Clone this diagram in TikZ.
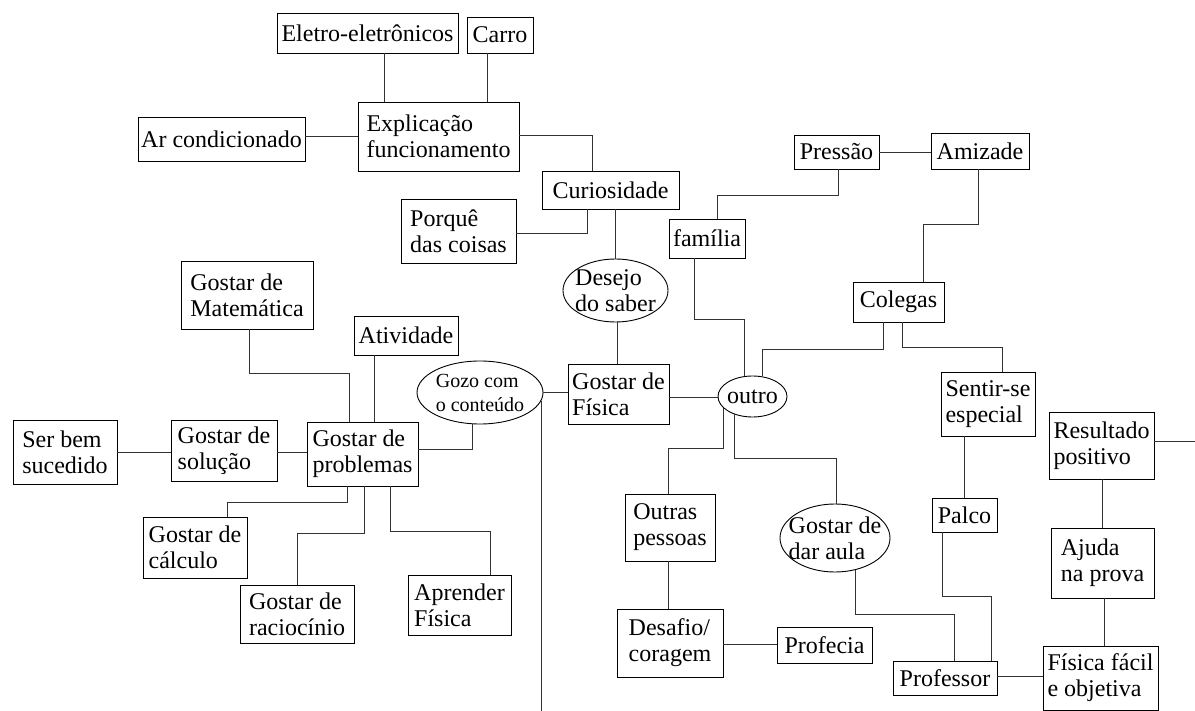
\documentclass[tikz,border=0pt]{standalone}
\usepackage{fontspec}
\setmainfont{Liberation Serif}
\usetikzlibrary{shapes.geometric}
\begin{document}
\begin{tikzpicture}[x=1pt,y=-1pt,
        every node/.style={font=\fontsize{24}{26}\selectfont},
        caixa/.style={draw,align=left,inner sep=2pt,line width=0.9pt},
        oval/.style={draw,ellipse,inner sep=0pt,line width=0.9pt},
        liga/.style={line width=0.9pt,black!80}]
        \useasboundingbox (0,0) rectangle (1195,711);
        \node[caixa,minimum width=181pt,minimum height=40pt] (eletro) at (367.5,33) {Eletro-eletrônicos};
        \node[caixa,minimum width=66pt,minimum height=36pt] (carro) at (500,35) {Carro};
        \node[caixa,minimum width=161pt,minimum height=69pt] (explic) at (438.5,136.5) {Explicação\\funcionamento};
        \node[caixa,minimum width=167pt,minimum height=44pt] (ar) at (221.5,139) {Ar condicionado};
        \node[caixa,minimum width=137pt,minimum height=38pt] (curio) at (610.5,190) {Curiosidade};
        \node[caixa,minimum width=115pt,minimum height=64pt] (porque) at (458.5,231) {Porquê\\das coisas};
        \node[caixa,minimum width=85pt,minimum height=34pt] (pressao) at (836.5,152) {Pressão};
        \node[caixa,minimum width=98pt,minimum height=36pt] (amizade) at (980,151) {Amizade};
        \node[caixa,minimum width=76pt,minimum height=39pt] (familia) at (707,238.5) {família};
        \node[oval,minimum width=105pt,minimum height=63pt,label={[align=left]center:Desejo\\do saber}] (desejo) at (615.5,290.5) {};
        \node[caixa,minimum width=101pt,minimum height=60pt] (fisica) at (618.5,394) {Gostar de\\Física};
        \node[oval,minimum width=69pt,minimum height=41pt,label=center:outro] (outro) at (752.5,396.5) {};
        \node[caixa,minimum width=91pt,minimum height=40pt] (colegas) at (898.5,302) {Colegas};
        \node[caixa,minimum width=94pt,minimum height=64pt] (sentir) at (988,404) {Sentir-se\\especial};
        \node[caixa,minimum width=105pt,minimum height=67pt] (result) at (1101.5,445.5) {Resultado\\positivo};
        \node[caixa,minimum width=132pt,minimum height=68pt] (mat) at (247,295) {Gostar de\\Matemática};
        \node[caixa,minimum width=104pt,minimum height=39pt] (ativ) at (406,335.5) {Atividade};
        \node[oval,minimum width=126pt,minimum height=63pt,label={[align=left,font=\fontsize{20}{24}\selectfont]center:Gozo com\\o conteúdo}] (gozo) at (480,392.5) {};
        \node[caixa,minimum width=111pt,minimum height=64pt] (prob) at (362.5,454) {Gostar de\\problemas};
        \node[caixa,minimum width=106pt,minimum height=61pt] (solucao) at (224,450.5) {Gostar de\\solução};
        \node[caixa,minimum width=104pt,minimum height=64pt] (serbem) at (65,452) {Ser bem\\sucedido};
        \node[caixa,minimum width=104pt,minimum height=61pt] (calculo) at (195,547.5) {Gostar de\\cálculo};
        \node[caixa,minimum width=114pt,minimum height=58pt] (racioc) at (297,614) {Gostar de\\raciocínio};
        \node[caixa,minimum width=103pt,minimum height=60pt] (aprender) at (459.5,605) {Aprender\\Física};
        \node[caixa,minimum width=90pt,minimum height=67pt] (outras) at (670,527.5) {Outras\\pessoas};
        \node[oval,minimum width=110pt,minimum height=68pt,label={[align=left]center:Gostar de\\dar aula}] (daraula) at (835,538) {};
        \node[caixa,minimum width=65pt,minimum height=34pt] (palco) at (964.5,515) {Palco};
        \node[caixa,minimum width=103pt,minimum height=70pt] (ajuda) at (1102.5,563) {Ajuda\\na prova};
        \node[caixa,minimum width=106pt,minimum height=68pt] (desafio) at (670,643) {Desafio/\\coragem};
        \node[caixa,minimum width=95pt,minimum height=36pt] (profecia) at (824.5,645) {Profecia};
        \node[caixa,minimum width=104pt,minimum height=34pt] (professor) at (945,678) {Professor};
        \node[caixa,minimum width=115pt,minimum height=64pt] (facil) at (1100.5,678) {Física fácil\\e objetiva};
        \coordinate (fim) at (542,711);
        \coordinate (borda) at (1195,441);
        \draw[liga] (eletro.south -| 384,0)--(explic.north -| 384,0);
        \draw[liga] (carro.south -| 487,0)--(explic.north -| 487,0);
        \draw[liga] (ar.east |- 0,136)--(explic.west |- 0,136);
        \draw[liga] (explic.east |- 0,135) -| (curio.north -| 592,0);
        \draw[liga] (curio.south -| 587,0) |- (porque.east |- 0,233);
        \draw[liga] (curio.south -| 615,0)--(desejo.north -| 615,0);
        \draw[liga] (desejo.south -| 617,0)--(fisica.north -| 617,0);
        \draw[liga] (gozo.east)--(fisica.west |- gozo.east);
        \draw[liga] (gozo.-8)--(gozo.-8 |- fim);
        \draw[liga] (mat.south -| 249,0)--++(0,44) -| (prob.north -| 349,0);
        \draw[liga] (ativ.south -| 374,0)--(prob.north -| 374,0);
        \draw[liga] (serbem.east |- 0,452)--(solucao.west |- 0,452);
        \draw[liga] (solucao.east |- 0,452)--(prob.west |- 0,452);
        \draw[liga] (prob.east |- 0,449) -| (gozo.south -| 472,0);
        \draw[liga] (prob.south -| 347,0)--++(0,16) -| (calculo.north -| 227,0);
        \draw[liga] (prob.south -| 364,0)--++(0,47) -| (racioc.north -| 297,0);
        \draw[liga] (prob.south -| 390,0)--++(0,45) -| (aprender.north -| 490,0);
        \draw[liga] (pressao.east)--(amizade.west |- pressao.east);
        \draw[liga] (pressao.south -| 838,0)--++(0,26) -| (familia.north -| 717,0);
        \draw[liga] (familia.south -| 694,0)--++(0,61) -| (outro.north -| 744,0);
        \draw[liga] (fisica.east |- 0,397)--(outro.west |- 0,397);
        \draw[liga] (amizade.south -| 978,0)--++(0,55) -| (colegas.north -| 923,0);
        \draw[liga] (colegas.south -| 883,0)--++(0,27) -| (outro.north -| 762,0);
        \draw[liga] (colegas.south -| 902,0)--++(0,25) -| (sentir.north -| 1002,0);
        \draw[liga] (outras.north -| 668,0)--++(0,-45) -| (outro.-158);
        \draw[liga] (daraula.north -| 836,0)--++(0,-45) -| (outro.-135);
        \draw[liga] (outras.south -| 668,0)--(desafio.north -| 668,0);
        \draw[liga] (desafio.east |- 0,644)--(profecia.west |- 0,644);
        \draw[liga] (professor.north -| 954,0)--++(0,-46) -| (daraula.-58);
        \draw[liga] (sentir.south -| 964,0)--(palco.north -| 964,0);
        \draw[liga] (palco.south -| 942,0)--++(0,64) -| (professor.north -| 991,0);
        \draw[liga] (professor.east |- 0,676)--(facil.west |- 0,676);
        \draw[liga] (result.south -| 1102,0)--(ajuda.north -| 1102,0);
        \draw[liga] (ajuda.south -| 1104,0)--(facil.north -| 1104,0);
        \draw[liga] (result.east |- borda)--(borda);
        \end{tikzpicture}
\end{document}
